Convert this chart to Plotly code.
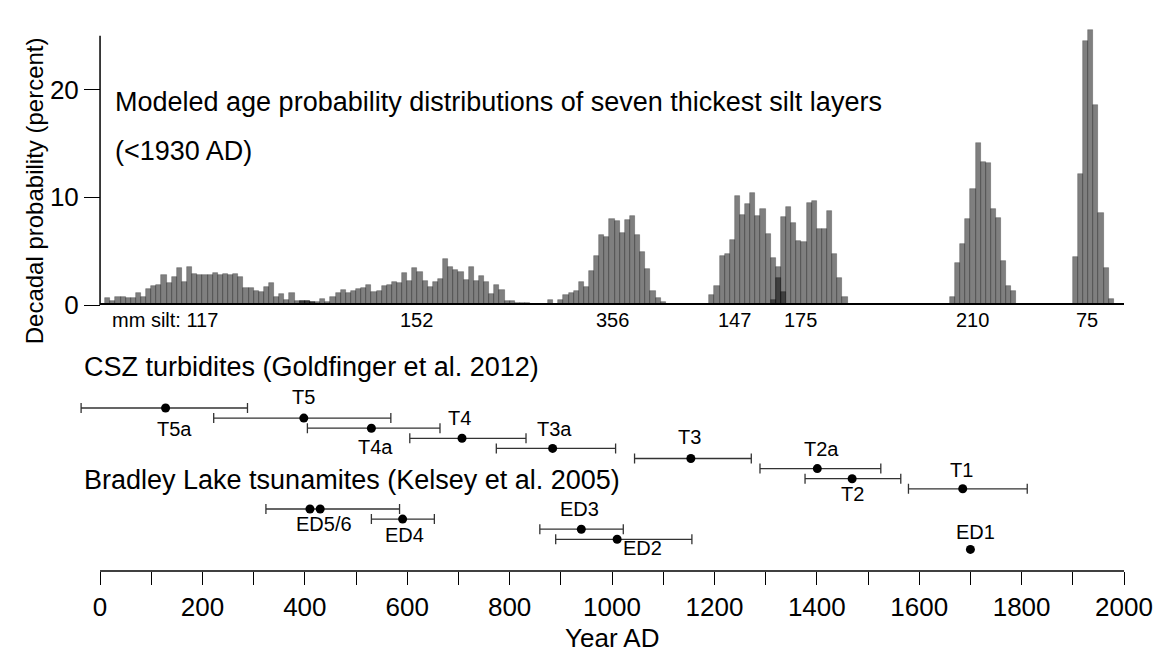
import plotly.graph_objects as go

# ---------------- DATA ----------------
# Decadal probability (%) of seven thickest silt layers; bar centres in Year AD
silt_mm = [117, 152, 356, 147, 175, 210, 75]
dist_start = [15, 395, 880, 1195, 1315, 1665, 1905]   # centre of first decadal bar
dist_values = [
    [0.65, 0.34, 0.77, 0.77, 0.65, 0.65, 1.08, 0.77, 1.49, 1.73, 1.83, 2.79, 2.04, 2.57,
     3.44, 2.17, 3.53, 2.88, 2.76, 2.79, 2.79, 3.0, 2.82, 2.91, 2.79, 2.88, 2.6, 1.58,
     1.61, 1.3, 1.24, 1.7, 2.01, 0.77, 1.02, 0.43, 1.08, 0.34, 0.4, 0.4, 0.31],
    [0.4, 0.4, 0.31, 0.28, 0.56, 0.31, 0.71, 1.08, 1.39, 1.15, 1.27, 1.49, 1.61, 1.83,
     1.21, 1.27, 1.8, 1.83, 2.14, 2.01, 3.0, 2.26, 3.44, 3.1, 2.2, 1.7, 2.17, 2.45, 4.27,
     3.53, 3.28, 3.1, 2.35, 3.53, 2.23, 2.66, 2.1, 0.99, 1.83, 1.39, 0.4, 0.34, 0.15,
     0.15, 0.15, 0.1],
    [0.43, 0.0, 0.43, 0.96, 1.08, 1.3, 2.17, 1.7, 3.19, 4.58, 6.5, 6.28, 7.99, 7.83,
     6.72, 7.86, 8.3, 6.53, 4.92, 3.31, 1.27, 0.65, 0.31],
    [0.96, 1.8, 4.58, 4.7, 6.07, 10.15, 8.36, 9.38, 10.4, 8.23, 8.91, 6.62, 4.4, 2.48, 1.18],
    [0.43, 3.5, 8.14, 9.07, 7.58, 5.97, 5.88, 9.47, 9.69, 7.06, 7.06, 8.73, 4.74, 2.48, 0.74],
    [0.77, 3.87, 5.66, 7.99, 10.77, 15.04, 13.3, 13.19, 8.91, 8.05, 4.09, 1.73, 1.3],
    [4.43, 12.16, 24.54, 25.57, 18.57, 8.54, 3.44, 0.56],
]
silt_label_year = [126, 618, 1000, 1239, 1368, 1704, 1928]

# CSZ turbidites (Goldfinger et al. 2012)
csz_names = ["T5a", "T5", "T4a", "T4", "T3a", "T3", "T2a", "T2", "T1"]
csz_age = [128, 398, 530, 707, 884, 1154, 1401, 1469, 1685]
csz_lo = [-37, 222, 405, 605, 774, 1044, 1289, 1377, 1579]
csz_hi = [288, 568, 664, 832, 1007, 1272, 1525, 1564, 1811]
csz_row = [1, 2, 3, 4, 5, 6, 7, 8, 9]

# Bradley Lake tsunamites (Kelsey et al. 2005)
bl_dot_names = ["ED6", "ED5", "ED4", "ED3", "ED2", "ED1"]
bl_dot_age = [410, 430, 591, 940, 1010, 1700]
bl_dot_row = [11, 11, 12, 13, 14, 15]
bl_range_names = ["ED5/6", "ED4", "ED3", "ED2"]
bl_range_mid = [420, 591, 940, 1010]
bl_range_lo = [324, 530, 859, 890]
bl_range_hi = [585, 653, 1022, 1156]
bl_range_row = [11, 12, 13, 14]
bl_label_names = ["ED5/6", "ED4", "ED3", "ED2", "ED1"]
bl_label_age = [420, 591, 940, 1010, 1700]
bl_label_row = [11, 12, 13, 14, 15]

x_ticks_major = 200
x_ticks_minor = 100
y_tickvals = [0, 10, 20]

# ---------------- STYLE / LAYOUT ----------------
W, H = 1165, 660
X_MIN, X_MAX = -45, 2000
R, T, B = 37, 20, 89
X0_PX = 100                      # pixel of year 0
PX_PER_YR = (W - R - X0_PX) / X_MAX
L = X0_PX + X_MIN * PX_PER_YR
PW, PH = W - L - R, H - T - B
BASE_PX = 305          # pixel of 0 % baseline
PX_PER_PCT = 10.77
ROW0_PX, ROW_PX = 408, 10.1
FONT = "Liberation Sans, Arial, Helvetica, sans-serif"

def xp(px):
    return (px - L) / PW

def yp(py):
    return (T + PH - py) / PH

d0 = yp(BASE_PX)
y_top = (BASE_PX - T) / PX_PER_PCT
row_top = 1 + (BASE_PX - ROW0_PX) / ROW_PX
row_bot = 1 + (T + PH - ROW0_PX) / ROW_PX

# label offsets (px: right, down) for point labels
csz_off = [(9, 21), (0, -21), (4, 19), (-3, -20), (2, -19), (-1, -21), (4, -20), (0, 15), (-1, -19)]
bl_off = [(9, 15), (2, 16), (-2, -20), (25, 9), (5, -17)]

fig = go.Figure()

for vals, start in zip(dist_values, dist_start):
    xs = [start + 10 * i for i in range(len(vals))]
    fig.add_trace(go.Bar(
        x=xs, y=vals, width=10, xaxis="x", yaxis="y",
        marker=dict(color="rgba(0,0,0,0.5)", line=dict(color="rgba(0,0,0,0.35)", width=0.7)),
        showlegend=False, hoverinfo="skip"))

err_style = dict(type="data", symmetric=False, color="#333333", thickness=1.3, width=5)
fig.add_trace(go.Scatter(
    x=csz_age, y=csz_row, xaxis="x", yaxis="y2", mode="markers",
    marker=dict(size=9, color="black"),
    error_x=dict(array=[h - a for h, a in zip(csz_hi, csz_age)],
                 arrayminus=[a - l for l, a in zip(csz_lo, csz_age)], **err_style),
    cliponaxis=False, showlegend=False, hoverinfo="skip"))
fig.add_trace(go.Scatter(
    x=bl_range_mid, y=bl_range_row, xaxis="x", yaxis="y2", mode="markers",
    marker=dict(size=1, color="rgba(0,0,0,0)"),
    error_x=dict(array=[h - a for h, a in zip(bl_range_hi, bl_range_mid)],
                 arrayminus=[a - l for l, a in zip(bl_range_lo, bl_range_mid)], **err_style),
    cliponaxis=False, showlegend=False, hoverinfo="skip"))
fig.add_trace(go.Scatter(
    x=bl_dot_age, y=bl_dot_row, xaxis="x", yaxis="y2", mode="markers",
    marker=dict(size=9, color="black"), cliponaxis=False,
    showlegend=False, hoverinfo="skip"))

ann = []
for name, a, r, (dx, dy) in zip(csz_names, csz_age, csz_row, csz_off):
    ann.append(dict(x=a, y=r, xref="x", yref="y2", text=name, showarrow=False,
                    xshift=dx, yshift=-dy, font=dict(size=20, color="black")))
for name, a, r, (dx, dy) in zip(bl_label_names, bl_label_age, bl_label_row, bl_off):
    ann.append(dict(x=a, y=r, xref="x", yref="y2", text=name, showarrow=False,
                    xshift=dx, yshift=-dy, font=dict(size=20, color="black")))
for i, (mm, xl) in enumerate(zip(silt_mm, silt_label_year)):
    txt = f"mm silt: {mm}" if i == 0 else str(mm)
    ann.append(dict(x=xl, y=yp(320), xref="x", yref="paper", text=txt, showarrow=False,
                    yanchor="middle", font=dict(size=20, color="black")))

big = dict(size=27, color="black")
ann += [
    dict(x=xp(113), y=yp(102), xref="paper", yref="paper", xanchor="left", yanchor="middle",
         text="Modeled age probability distributions of seven thickest silt layers",
         showarrow=False, font=big),
    dict(x=xp(113), y=yp(151), xref="paper", yref="paper", xanchor="left", yanchor="middle",
         text="(<1930 AD)", showarrow=False, font=big),
    dict(x=xp(82), y=yp(367), xref="paper", yref="paper", xanchor="left", yanchor="middle",
         text="CSZ turbidites (Goldfinger et al. 2012)", showarrow=False, font=big),
    dict(x=xp(82), y=yp(480), xref="paper", yref="paper", xanchor="left", yanchor="middle",
         text="Bradley Lake tsunamites (Kelsey et al. 2005)", showarrow=False, font=big),
    dict(x=xp(614), y=yp(638), xref="paper", yref="paper", xanchor="center", yanchor="middle",
         text="Year AD", showarrow=False, font=dict(size=26, color="black")),
    dict(x=xp(35), y=yp(191), xref="paper", yref="paper", xanchor="center", yanchor="middle",
         text="Decadal probability (percent)", textangle=-90, showarrow=False,
         font=dict(size=24, color="black")),
]

shapes = [
    # vertical axis line of the probability panel (0-25 %)
    dict(type="line", xref="x", yref="y", x0=0, x1=0, y0=0, y1=25,
         line=dict(color="black", width=1.5)),
    # thick baseline of the probability panel
    dict(type="line", xref="x", yref="y", x0=0, x1=2000, y0=0, y1=0,
         line=dict(color="black", width=4)),
    # bottom year axis line
    dict(type="line", xref="x", yref="paper", x0=0, x1=2000, y0=0, y1=0,
         line=dict(color="black", width=1.5)),
]

fig.update_layout(
    width=W, height=H, margin=dict(l=L, r=R, t=T, b=B),
    paper_bgcolor="white", plot_bgcolor="white",
    font=dict(family=FONT, color="black"),
    barmode="overlay", bargap=0,
    xaxis=dict(range=[X_MIN, X_MAX], anchor="y2", showgrid=False, zeroline=False,
               showline=False,
               ticks="outside", ticklen=13, tickwidth=1.3, tickcolor="black",
               tick0=0, dtick=x_ticks_major, tickfont=dict(size=26),
               minor=dict(dtick=x_ticks_minor, tick0=0, ticks="outside", ticklen=13,
                          tickwidth=1.3, tickcolor="black", showgrid=False)),
    yaxis=dict(domain=[d0, 1], range=[0, y_top], anchor="free",
               position=(0 - X_MIN) / (X_MAX - X_MIN), showgrid=False,
               zeroline=False, showline=False, ticks="outside", ticklen=16,
               tickwidth=1.3, tickcolor="black", tickvals=y_tickvals,
               tickfont=dict(size=26)),
    yaxis2=dict(domain=[0, d0], range=[row_bot, row_top], anchor="x", showgrid=False,
                zeroline=False, showline=False, showticklabels=False, ticks=""),
    annotations=ann, shapes=shapes,
)

fig.write_html("out.html")
